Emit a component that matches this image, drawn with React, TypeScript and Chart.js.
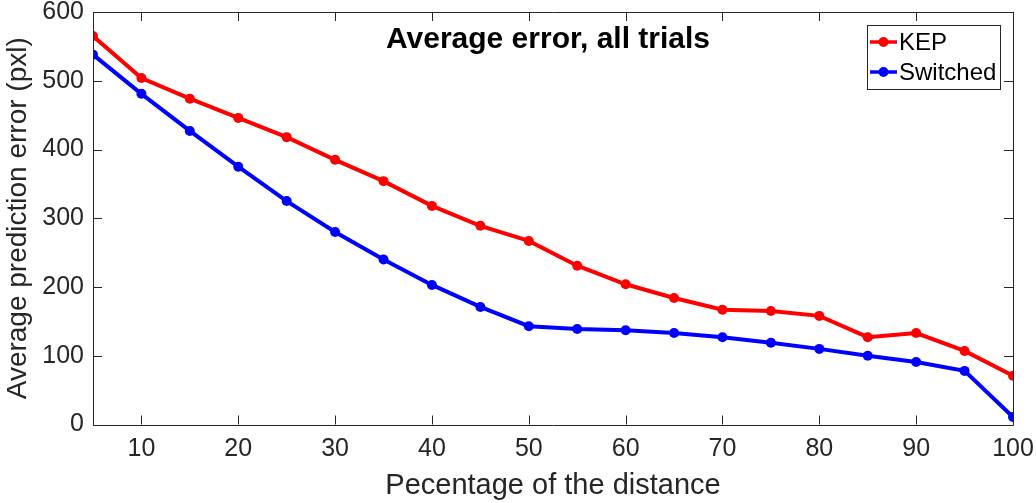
import React, { useEffect, useRef } from "react";
import { Chart, registerables } from "chart.js";

Chart.register(...registerables);

const percentages = [5, 10, 15, 20, 25, 30, 35, 40, 45, 50, 55, 60, 65, 70, 75, 80, 85, 90, 95, 100];
const kepValues = [565, 504, 474, 446, 418, 385, 354, 318, 289, 267, 231, 204, 184, 167, 165, 158, 127, 133, 107, 71];
const switchedValues = [538, 481, 427, 375, 325, 280, 240, 203, 171, 143, 139, 137, 133, 127, 119, 110, 100, 91, 78, 11];
const xTickValues = [10, 20, 30, 40, 50, 60, 70, 80, 90, 100];
const yTickValues = [0, 100, 200, 300, 400, 500, 600];

const chartTitle = "Average error, all trials";
const xTitle = "Pecentage of the distance";
const yTitle = "Average prediction error (pxl)";

const FONT = "'Liberation Sans', Arial, Helvetica, sans-serif";
const AXIS_COLOR = "#262626";

const framePlugin = {
  id: "matlabFrame",
  afterDatasetsDraw(chart: any) {
    const { ctx, chartArea } = chart;
    const { left, right, top, bottom } = chartArea;
    const xs = chart.scales.x;
    const ys = chart.scales.y;
    ctx.save();
    ctx.strokeStyle = AXIS_COLOR;
    ctx.lineWidth = 1;
    ctx.beginPath();
    ctx.rect(Math.round(left) + 0.5, Math.round(top) + 0.5, Math.round(right - left), Math.round(bottom - top));
    ctx.stroke();
    const tl = 9;
    ctx.beginPath();
    xs.ticks.forEach((t: any) => {
      const px = Math.round(xs.getPixelForValue(t.value)) + 0.5;
      ctx.moveTo(px, bottom);
      ctx.lineTo(px, bottom - tl);
      ctx.moveTo(px, top);
      ctx.lineTo(px, top + tl);
    });
    ys.ticks.forEach((t: any) => {
      const py = Math.round(ys.getPixelForValue(t.value)) + 0.5;
      ctx.moveTo(left, py);
      ctx.lineTo(left + tl, py);
      ctx.moveTo(right, py);
      ctx.lineTo(right - tl, py);
    });
    ctx.stroke();

    // title inside plot
    ctx.fillStyle = "#000000";
    ctx.font = `bold 30px ${FONT}`;
    ctx.textAlign = "center";
    ctx.textBaseline = "alphabetic";
    ctx.fillText(chartTitle, (left + right) / 2 - 5, top + 36);

    // legend box
    const boxRight = right - 13;
    const boxTop = top + 13;
    const boxW = 133;
    const boxH = 64;
    const bx = boxRight - boxW;
    ctx.fillStyle = "#ffffff";
    ctx.fillRect(bx, boxTop, boxW, boxH);
    ctx.strokeStyle = AXIS_COLOR;
    ctx.lineWidth = 1;
    ctx.strokeRect(Math.round(bx) + 0.5, Math.round(boxTop) + 0.5, boxW, boxH);
    chart.data.datasets.forEach((ds: any, i: number) => {
      const cy = boxTop + 17 + i * 30;
      ctx.strokeStyle = ds.borderColor;
      ctx.lineWidth = 3.5;
      ctx.beginPath();
      ctx.moveTo(bx + 3, cy);
      ctx.lineTo(bx + 30, cy);
      ctx.stroke();
      ctx.fillStyle = ds.borderColor;
      ctx.beginPath();
      ctx.arc(bx + 16.5, cy, 5, 0, Math.PI * 2);
      ctx.fill();
      ctx.fillStyle = "#000000";
      ctx.font = `24px ${FONT}`;
      ctx.textAlign = "left";
      ctx.textBaseline = "middle";
      ctx.fillText(ds.label, bx + 32, cy + 1);
    });
    ctx.restore();
  },
};

export default function App() {
  const canvasRef = useRef<HTMLCanvasElement | null>(null);

  useEffect(() => {
    if (!canvasRef.current) return;
    const chart = new Chart(canvasRef.current, {
      type: "line",
      data: {
        labels: percentages,
        datasets: [
          {
            label: "KEP",
            data: percentages.map((p, i) => ({ x: p, y: kepValues[i] })),
            borderColor: "#ff0000",
            backgroundColor: "#ff0000",
            borderWidth: 4,
            pointRadius: 5,
            pointBorderWidth: 0,
            pointBackgroundColor: "#ff0000",
            tension: 0,
          },
          {
            label: "Switched",
            data: percentages.map((p, i) => ({ x: p, y: switchedValues[i] })),
            borderColor: "#0000ff",
            backgroundColor: "#0000ff",
            borderWidth: 4,
            pointRadius: 5,
            pointBorderWidth: 0,
            pointBackgroundColor: "#0000ff",
            tension: 0,
          },
        ],
      },
      options: {
        responsive: false,
        animation: false,
        devicePixelRatio: 1,
        layout: { padding: { left: 0, right: 23, top: 12, bottom: 0 } },
        plugins: {
          legend: { display: false },
          title: { display: false },
          tooltip: { enabled: false },
        },
        scales: {
          x: {
            type: "linear",
            min: 5,
            max: 100,
            grid: { display: false, drawTicks: false },
            border: { display: false },
            afterBuildTicks: (scale: any) => {
              scale.ticks = xTickValues.map((v) => ({ value: v }));
            },
            afterFit: (scale: any) => {
              scale.height = 78.5;
              scale.paddingLeft = 0;
              scale.paddingRight = 0;
            },
            ticks: {
              color: AXIS_COLOR,
              font: { family: FONT, size: 25 },
              padding: 10,
              maxRotation: 0,
            },
            title: {
              display: true,
              text: xTitle,
              color: AXIS_COLOR,
              font: { family: FONT, size: 29 },
              padding: { top: 0, bottom: 0 },
            },
          },
          y: {
            type: "linear",
            min: 0,
            max: 600,
            grid: { display: false, drawTicks: false },
            border: { display: false },
            afterBuildTicks: (scale: any) => {
              scale.ticks = yTickValues.map((v) => ({ value: v }));
            },
            afterFit: (scale: any) => {
              scale.width = 93;
              scale.paddingTop = 0;
              scale.paddingBottom = 0;
            },
            ticks: {
              color: AXIS_COLOR,
              font: { family: FONT, size: 25 },
              padding: 9,
            },
            title: {
              display: true,
              text: yTitle,
              color: AXIS_COLOR,
              font: { family: FONT, size: 28 },
              padding: { top: 1, bottom: 0 },
            },
          },
        },
      },
      plugins: [framePlugin],
    });
    return () => chart.destroy();
  }, []);

  return (
    <div style={{ position: "fixed", left: 0, top: 0, width: 1036, height: 503, background: "#ffffff" }}>
      <canvas ref={canvasRef} width={1036} height={503} />
    </div>
  );
}
